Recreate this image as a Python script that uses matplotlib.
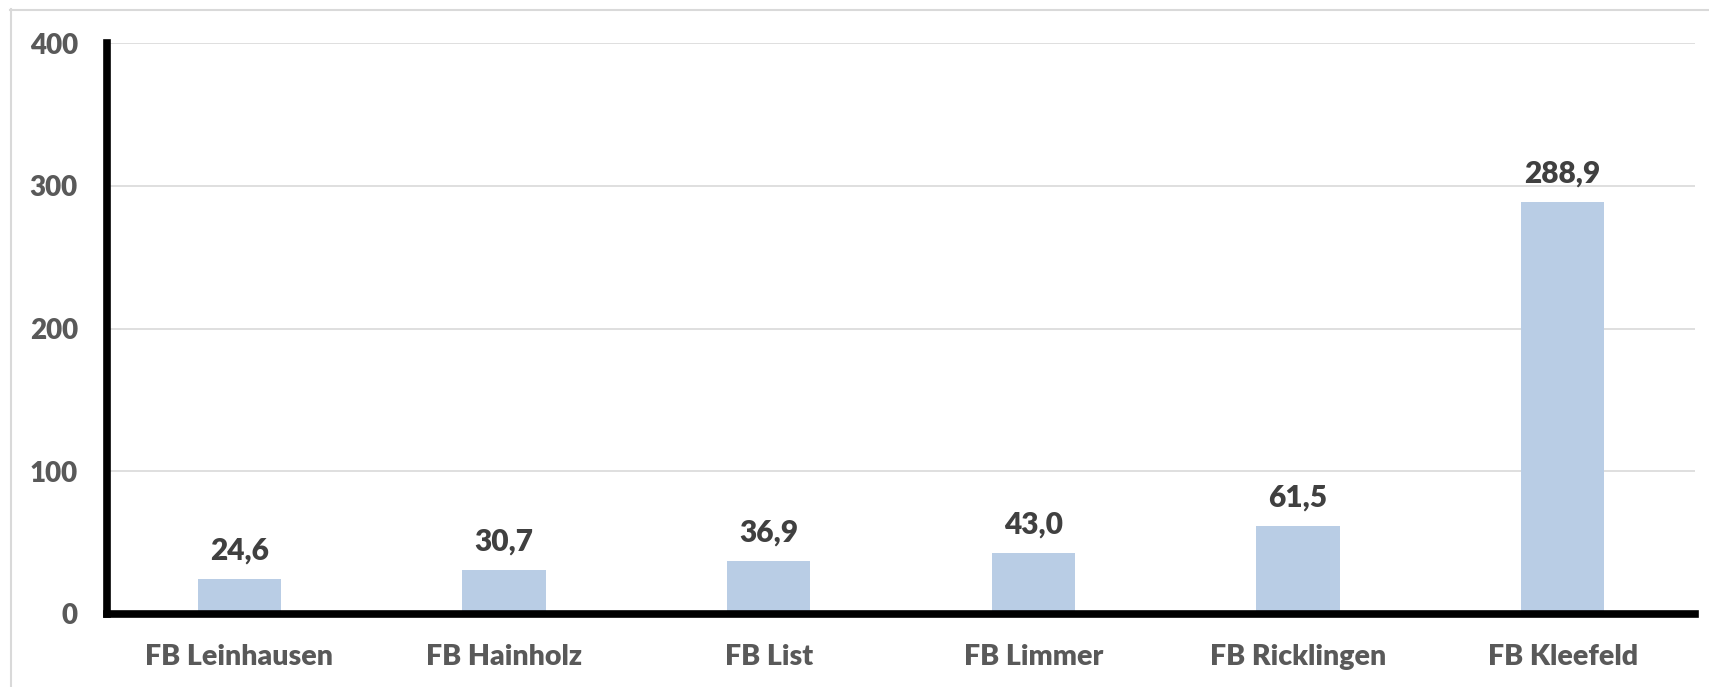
import matplotlib
matplotlib.use("Agg")
import matplotlib.pyplot as plt
from matplotlib.lines import Line2D

categories = ["FB Leinhausen", "FB Hainholz", "FB List", "FB Limmer", "FB Ricklingen", "FB Kleefeld"]
values = [24.6, 30.7, 36.9, 43.0, 61.5, 288.9]
y_ticks = [0, 100, 200, 300, 400]

plt.rcParams["font.family"] = ["Lato", "DejaVu Sans"]
WEIGHT = "heavy"

fig = plt.figure(figsize=(17.09, 6.87), dpi=100)
ax = fig.add_axes([107 / 1709, 1 - 614 / 687, (1695 - 107) / 1709, (614 - 43) / 687])

x = range(len(categories))
ax.bar(x, values, width=0.314, color="#B9CDE5", zorder=2)

for xi, v in zip(x, values):
    ax.annotate(f"{v:.1f}".replace(".", ","), (xi, v), xytext=(0, 14),
                textcoords="offset points", ha="center", va="baseline",
                fontsize=21.5, fontweight=WEIGHT, color="#404040")

ax.set_xlim(-0.5, len(categories) - 0.5)
ax.set_ylim(0, 400)
ax.set_yticks(y_ticks)
ax.set_yticklabels([str(t) for t in y_ticks])
ax.set_xticks(list(x))
ax.set_xticklabels(categories)
ax.tick_params(axis="y", length=0, labelsize=20, labelcolor="#595959", pad=21)
ax.tick_params(axis="x", length=0, labelsize=20.5, labelcolor="#595959", pad=21.5)
for lab in ax.get_xticklabels() + ax.get_yticklabels():
    lab.set_fontweight(WEIGHT)

ax.yaxis.grid(True, color="#D9D9D9", linewidth=1.2, zorder=0)
ax.set_axisbelow(True)

for side in ("top", "right"):
    ax.spines[side].set_visible(False)
for side in ("left", "bottom"):
    ax.spines[side].set_linewidth(5.5)
    ax.spines[side].set_color("black")
    ax.spines[side].set_capstyle("projecting")
    ax.spines[side].set_zorder(3)

# outer chart frame: top and left edges
fig.add_artist(Line2D([10 / 1709, 1], [1 - 9.5 / 687] * 2, color="#D9D9D9", linewidth=1.5))
fig.add_artist(Line2D([10.5 / 1709] * 2, [0, 1 - 9 / 687], color="#D9D9D9", linewidth=1.5))

fig.savefig("out.png", dpi=100)
